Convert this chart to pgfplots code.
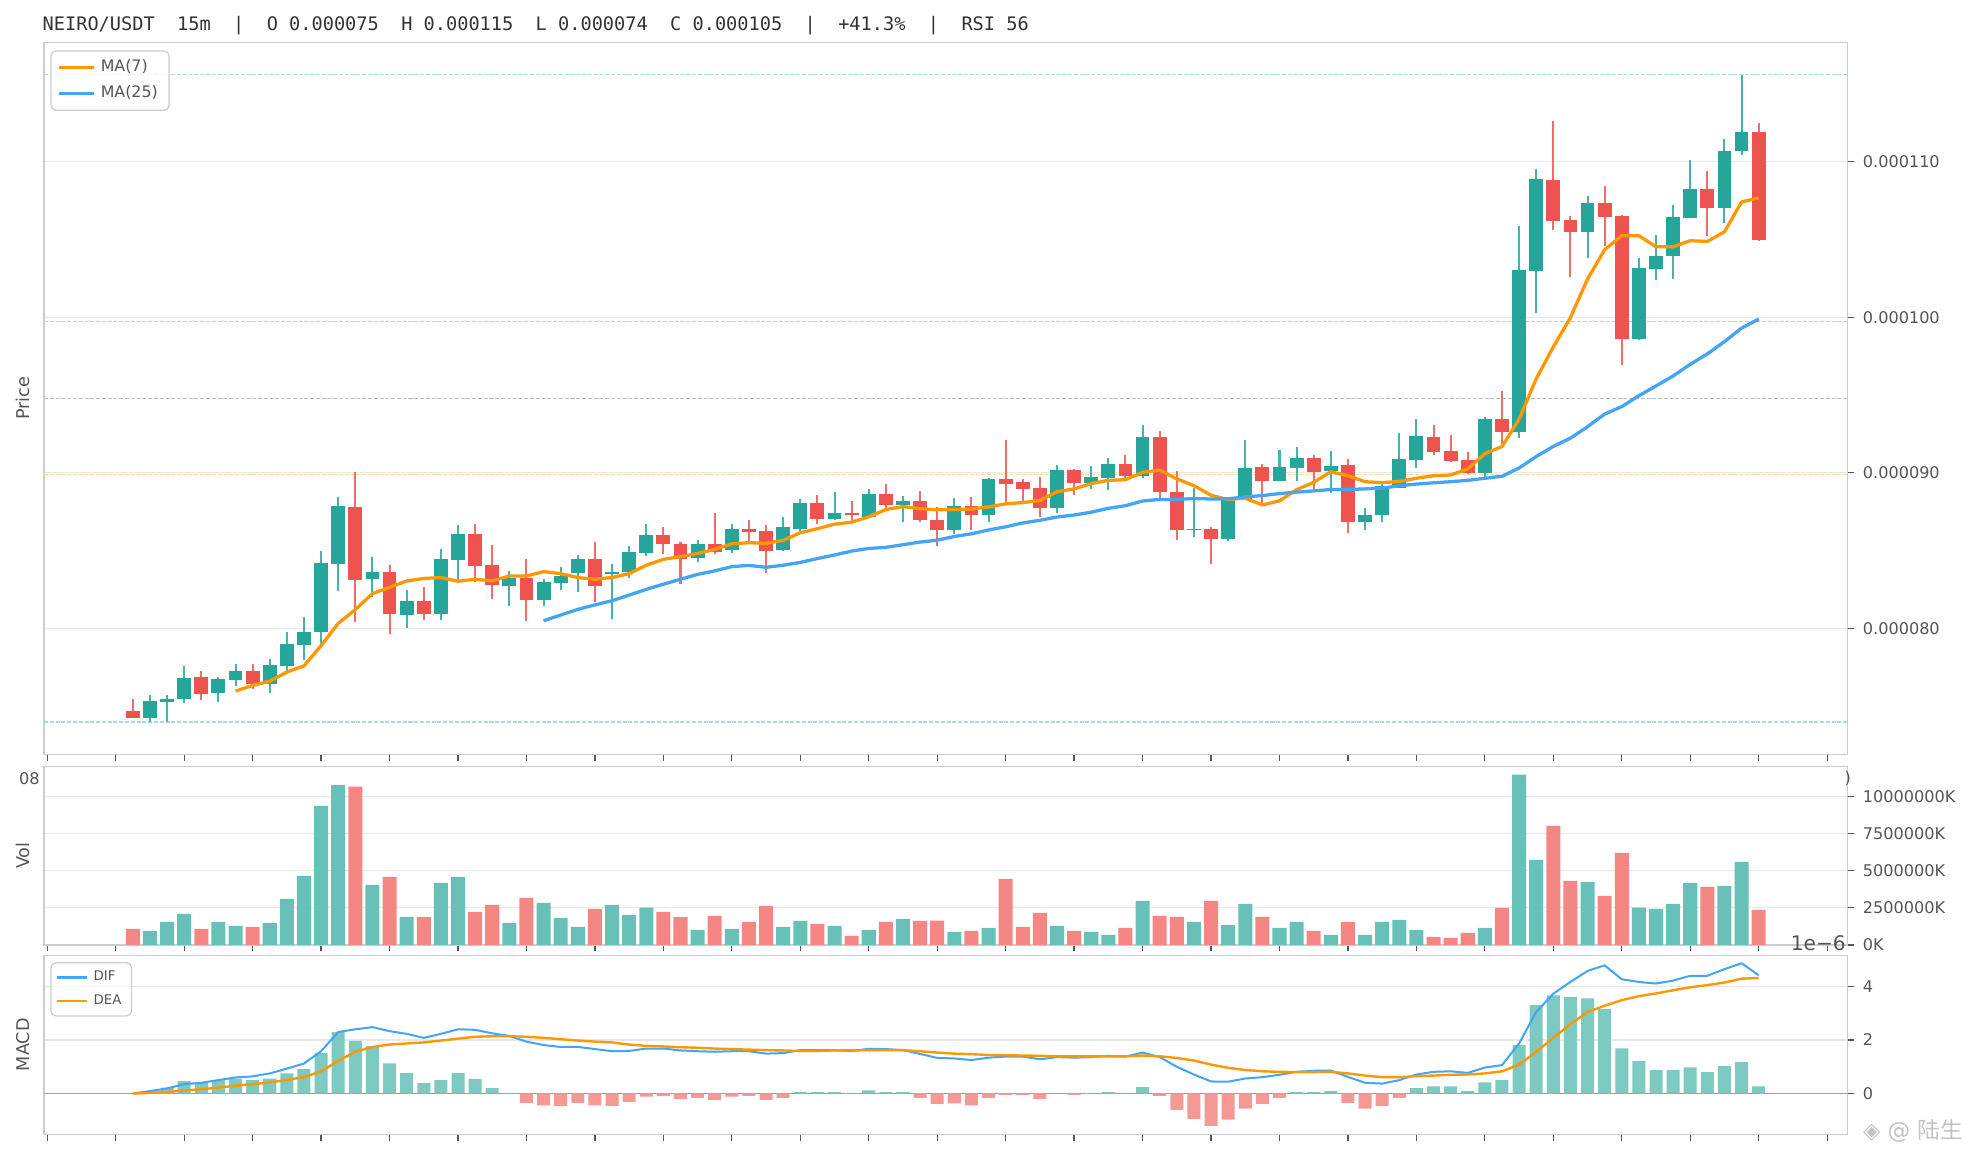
\documentclass[border=0pt]{standalone}
\usepackage{fontspec}
\setmainfont{DejaVu Sans}
\newfontfamily\monof{DejaVu Sans Mono}
\newfontfamily\cjk{Noto Sans CJK SC}
\usepackage{pgfplots}
\usepackage{pgfplotstable}
\pgfplotsset{compat=1.18}

\definecolor{up}{HTML}{26A69A}
\definecolor{dn}{HTML}{EF5350}
\definecolor{upw}{HTML}{46B3A9}
\definecolor{dnw}{HTML}{F16D6A}
\definecolor{volup}{HTML}{67C1B8}
\definecolor{voldn}{HTML}{F48784}
\definecolor{histup}{HTML}{7DCAC2}
\definecolor{histdn}{HTML}{F59896}
\definecolor{maor}{HTML}{FF9800}
\definecolor{mabl}{HTML}{42A5F5}
\definecolor{spine}{HTML}{CCCCCC}
\definecolor{gridc}{HTML}{E8E8E8}
\definecolor{tickc}{HTML}{555555}
\definecolor{labc}{HTML}{555555}
\definecolor{fibteal}{HTML}{A8DCD7}
\definecolor{fibred}{HTML}{F9B9B8}
\definecolor{fibgray}{HTML}{BDBDBD}
\definecolor{fiborange}{HTML}{FFD699}
\definecolor{zeroc}{HTML}{9E9E9E}
\definecolor{titlec}{HTML}{333333}
\definecolor{wm}{HTML}{C4C4C4}

% up candles: index, open, high, low, close, volume (x 1e6 K)
\pgfplotstableread{
i o h l c v
1 74.25 75.72 73.97 75.34 0.946
2 75.28 75.72 74.00 75.47 1.554
3 75.47 77.58 75.21 76.81 2.095
5 75.85 76.88 75.28 76.75 1.554
6 76.68 77.71 76.30 77.26 1.284
8 76.43 78.03 75.85 77.64 1.486
9 77.58 79.76 77.20 78.99 3.108
10 78.92 80.72 77.96 79.76 4.662
11 79.76 84.94 78.99 84.17 9.392
12 84.10 88.46 82.38 87.89 10.81
14 83.17 84.56 81.98 83.60 4.054
16 80.85 82.45 80.00 81.74 1.892
18 80.90 85.07 80.50 84.43 4.189
19 84.37 86.61 83.07 86.09 4.595
22 82.70 83.66 81.43 83.21 1.486
24 81.80 83.15 81.42 82.96 2.838
25 82.89 83.92 82.45 83.34 1.824
26 83.53 84.69 82.34 84.43 1.216
28 83.47 84.11 80.60 83.60 2.703
29 83.60 85.26 83.21 84.88 2.027
30 84.81 86.67 84.62 85.97 2.523
33 84.49 85.65 84.24 85.39 1.014
35 85.00 86.73 84.81 86.35 1.081
38 85.00 87.18 84.94 86.48 1.216
39 86.41 88.34 86.22 88.08 1.622
41 87.05 88.78 86.99 87.44 1.284
43 87.18 88.98 87.18 88.65 1.014
45 87.95 88.53 86.80 88.20 1.757
48 86.29 88.40 86.09 87.89 0.878
50 87.25 89.68 86.80 89.62 1.149
54 87.76 90.51 87.44 90.19 1.284
56 89.36 90.44 88.98 89.75 0.878
57 89.68 90.96 88.91 90.58 0.676
59 89.81 93.07 89.68 92.30 2.973
62 86.29 89.04 85.84 86.41 1.554
64 85.71 88.34 85.58 88.27 1.351
65 88.27 92.11 88.27 90.32 2.770
67 89.49 91.47 89.49 90.38 1.149
68 90.32 91.66 89.49 90.96 1.554
70 90.13 91.41 88.72 90.45 0.676
72 86.80 87.76 86.29 87.31 0.676
73 87.25 89.42 86.86 89.17 1.554
74 89.04 92.56 89.04 90.90 1.689
75 90.83 93.46 90.32 92.37 1.014
79 89.99 93.59 89.74 93.46 1.149
81 92.63 105.88 92.24 103.04 11.49
82 102.98 109.53 100.24 108.89 5.743
85 105.49 107.80 103.83 107.35 4.257
88 98.57 103.83 98.51 103.18 2.523
89 103.12 105.30 102.42 103.95 2.432
90 103.95 107.22 102.48 106.45 2.770
91 106.39 110.10 106.39 108.25 4.189
93 107.03 111.44 106.07 110.67 3.986
94 110.67 115.60 110.42 111.89 5.608
}\upt

% down candles
\pgfplotstableread{
i o h l c v
0 74.70 75.47 74.25 74.25 1.081
4 76.88 77.26 75.40 75.79 1.081
7 77.26 77.71 76.11 76.43 1.216
13 87.82 90.06 80.40 83.11 10.68
15 83.60 84.05 79.60 80.91 4.595
17 81.74 82.64 80.50 80.90 1.892
20 86.09 86.73 82.98 83.98 2.230
21 84.05 85.33 81.87 82.77 2.703
23 83.21 84.43 80.45 81.80 3.176
27 84.43 85.52 81.68 82.70 2.432
31 85.97 86.48 84.75 85.39 2.230
32 85.39 85.52 82.84 84.43 1.892
34 85.39 87.38 84.75 84.88 1.959
36 86.41 86.93 85.39 86.16 1.554
37 86.22 86.61 83.53 84.94 2.635
40 88.08 88.59 86.67 87.05 1.419
42 87.44 88.20 86.86 87.25 0.608
44 88.65 89.30 87.63 87.95 1.554
46 88.20 88.85 86.86 86.93 1.622
47 86.99 87.82 85.26 86.29 1.644
49 87.89 88.46 86.29 87.25 0.946
51 89.62 92.10 88.14 89.30 4.459
52 89.43 89.62 88.14 88.98 1.216
53 89.04 89.75 87.12 87.76 2.162
55 90.19 90.25 88.59 89.36 0.946
58 90.58 91.15 89.68 89.81 1.149
60 92.30 92.69 88.40 88.78 1.959
61 88.78 90.13 85.65 86.29 1.892
63 86.41 86.48 84.11 85.71 2.973
66 90.38 90.58 88.08 89.49 1.892
69 90.96 91.15 88.91 90.06 0.946
71 90.51 90.90 86.10 86.80 1.554
76 92.30 93.07 91.15 91.34 0.541
77 91.41 92.43 90.70 90.77 0.473
78 90.83 91.34 89.94 89.99 0.811
80 93.46 95.25 91.86 92.63 2.500
83 108.82 112.60 105.62 106.19 8.041
84 106.25 106.52 102.61 105.49 4.324
86 107.35 108.44 104.60 106.45 3.311
87 106.51 106.58 96.91 98.57 6.216
92 108.25 109.40 105.24 107.03 3.919
95 111.89 112.47 104.92 104.98 2.365
}\dnt

\pgfplotstableread{
i m
6 75.96
7 76.32
8 76.60
9 77.18
10 77.58
11 78.88
12 80.31
13 81.20
14 82.23
15 82.62
16 83.04
17 83.20
18 83.26
19 83.02
20 83.15
21 83.04
22 83.36
23 83.36
24 83.64
25 83.51
26 83.26
27 83.15
28 83.26
29 83.51
30 84.05
31 84.43
32 84.60
33 84.81
34 85.07
35 85.43
36 85.50
37 85.46
38 85.65
39 86.14
40 86.40
41 86.69
42 86.82
43 87.16
44 87.63
45 87.82
46 87.69
47 87.61
48 87.63
49 87.67
50 87.80
51 88.00
52 88.08
53 88.21
54 88.78
55 88.96
56 89.30
57 89.51
58 89.55
59 90.02
60 90.17
61 89.60
62 89.17
63 88.55
64 88.27
65 88.36
66 87.93
67 88.19
68 88.91
69 89.38
70 90.06
71 89.81
72 89.42
73 89.36
74 89.44
75 89.64
76 89.81
77 89.85
78 90.24
79 91.22
80 91.68
81 93.44
82 96.04
83 98.09
84 99.97
85 102.46
86 104.34
87 105.24
88 105.24
89 104.53
90 104.53
91 104.92
92 104.87
93 105.49
94 107.41
95 107.67
}\maseven

\pgfplotstableread{
i m
24 80.48
25 80.85
26 81.21
27 81.50
28 81.77
29 82.13
30 82.50
31 82.83
32 83.15
33 83.46
34 83.69
35 83.96
36 84.04
37 83.92
38 84.05
39 84.23
40 84.48
41 84.71
42 84.96
43 85.13
44 85.20
45 85.37
46 85.54
47 85.66
48 85.90
49 86.07
50 86.32
51 86.52
52 86.77
53 86.94
54 87.15
55 87.28
56 87.46
57 87.71
58 87.88
59 88.18
60 88.28
61 88.28
62 88.34
63 88.31
64 88.32
65 88.45
66 88.53
67 88.66
68 88.75
69 88.83
70 88.92
71 88.92
72 88.96
73 89.01
74 89.16
75 89.27
76 89.35
77 89.42
78 89.51
79 89.64
80 89.77
81 90.30
82 91.04
83 91.69
84 92.22
85 92.96
86 93.77
87 94.25
88 94.95
89 95.58
90 96.22
91 96.97
92 97.64
93 98.43
94 99.30
95 99.88
}\matwentyfive

\pgfplotstableread{
i h dif dea
0 0 0 0
1 0.10 0.09 0.02
2 0.22 0.19 0.06
3 0.46 0.35 0.11
4 0.41 0.40 0.16
5 0.50 0.50 0.22
6 0.56 0.60 0.29
7 0.50 0.64 0.35
8 0.56 0.75 0.41
9 0.75 0.93 0.51
10 0.91 1.12 0.61
11 1.52 1.58 0.83
12 2.29 2.30 1.22
13 1.97 2.40 1.56
14 1.77 2.48 1.74
15 1.13 2.33 1.83
16 0.76 2.23 1.87
17 0.39 2.08 1.91
18 0.50 2.23 1.98
19 0.76 2.40 2.05
20 0.54 2.38 2.12
21 0.20 2.25 2.14
22 0.02 2.15 2.14
23 -0.35 1.94 2.12
24 -0.44 1.81 2.08
25 -0.47 1.74 2.03
26 -0.35 1.74 1.98
27 -0.44 1.66 1.94
28 -0.46 1.58 1.91
29 -0.31 1.59 1.83
30 -0.12 1.68 1.78
31 -0.10 1.68 1.76
32 -0.20 1.61 1.73
33 -0.16 1.58 1.71
34 -0.24 1.56 1.68
35 -0.12 1.58 1.66
36 -0.09 1.58 1.64
37 -0.24 1.49 1.62
38 -0.16 1.51 1.61
39 0.05 1.62 1.59
40 0.05 1.62 1.59
41 0.05 1.62 1.61
42 0.01 1.59 1.61
43 0.12 1.67 1.62
44 0.05 1.66 1.62
45 0.05 1.62 1.62
46 -0.16 1.48 1.58
47 -0.39 1.33 1.53
48 -0.37 1.31 1.49
49 -0.44 1.25 1.47
50 -0.16 1.34 1.44
51 -0.05 1.38 1.43
52 -0.05 1.38 1.42
53 -0.20 1.28 1.41
54 0.01 1.36 1.39
55 -0.05 1.34 1.39
56 0.01 1.36 1.39
57 0.05 1.41 1.39
58 0.01 1.38 1.39
59 0.24 1.53 1.42
60 -0.09 1.36 1.39
61 -0.61 1.00 1.33
62 -0.95 0.71 1.23
63 -1.21 0.45 1.08
64 -0.98 0.44 0.96
65 -0.57 0.56 0.88
66 -0.39 0.61 0.83
67 -0.16 0.70 0.81
68 0.05 0.81 0.80
69 0.05 0.85 0.80
70 0.09 0.86 0.81
71 -0.35 0.62 0.75
72 -0.57 0.40 0.67
73 -0.46 0.37 0.61
74 -0.16 0.50 0.61
75 0.20 0.71 0.65
76 0.27 0.81 0.67
77 0.27 0.83 0.70
78 0.09 0.77 0.71
79 0.42 0.97 0.75
80 0.50 1.06 0.83
81 1.81 1.87 1.08
82 3.30 3.05 1.56
83 3.67 3.73 2.08
84 3.60 4.17 2.59
85 3.56 4.58 3.05
86 3.15 4.79 3.28
87 1.69 4.27 3.49
88 1.21 4.17 3.64
89 0.87 4.11 3.74
90 0.87 4.22 3.86
91 0.98 4.40 3.97
92 0.80 4.40 4.05
93 1.02 4.65 4.15
94 1.17 4.87 4.29
95 0.27 4.42 4.32
}\macdt

\pgfplotsset{
  panel/.style={
    scale only axis, width=717pt,
    xmin=-5.19, xmax=100.19,
    clip mode=individual,
    axis line style={draw=spine, line width=0.5pt},
    tick align=outside, xtick pos=left, ytick pos=right, yticklabel pos=right,
    major tick length=2.6pt,
    tick style={draw=tickc, line width=0.5pt},
    xtick={-5,-1,...,99}, xticklabels={},
    ymajorgrids, grid style={draw=gridc, line width=0.5pt},
    ticklabel style={font=\fontsize{6.4}{7.7}\selectfont, text=labc},
  },
  wick/.style={only marks, mark=*, mark size=0pt, mark options={draw opacity=0, fill opacity=0}, forget plot,
    error bars/.cd, y dir=plus, y explicit, error mark=none,
    error bar style={draw=#1, line width=0.8pt}},
  body/.style={only marks, mark=*, mark size=0pt, mark options={draw opacity=0, fill opacity=0}, forget plot,
    error bars/.cd, y dir=plus, y explicit, error mark=none,
    error bar style={draw=#1, line width=5.5pt}},
}

\begin{document}
\begin{tikzpicture}
\path[use as bounding box] (-17.5pt,16.8pt) rectangle (766.5pt,-442.7pt);

% ---------------- price panel ----------------
\begin{axis}[panel, at={(0pt,0pt)}, anchor=north west, height=283.1pt,
  ymin=71.89, ymax=117.68,
  ytick={80,90,100,110}, yticklabels={0.000080,0.000090,0.000100,0.000110},
  legend image code/.code={\draw[#1, line width=1.3pt] (0pt,0pt) -- (14pt,0pt);},
  legend style={at={(0.0035,0.9887)}, anchor=north west, draw=spine, line width=0.5pt,
    rounded corners=2pt, fill=white, fill opacity=0.8, text opacity=1,
    font=\fontsize{6.3}{7.5}\selectfont, text=labc, inner xsep=2.5pt, inner ysep=1.5pt,
    row sep=0pt, cells={anchor=west}},
]
\addplot[fibteal, line width=0.5pt, dash pattern=on 1.6pt off 0.7pt, forget plot] coordinates {(-5.19,115.60) (100.19,115.60)};
\addplot[fibred, line width=0.5pt, dash pattern=on 1.6pt off 0.7pt, forget plot] coordinates {(-5.19,99.70) (100.19,99.70)};
\addplot[fibgray, line width=0.5pt, dash pattern=on 1.6pt off 0.7pt, forget plot] coordinates {(-5.19,94.78) (100.19,94.78)};
\addplot[fiborange, line width=0.5pt, dash pattern=on 1.6pt off 0.7pt, forget plot] coordinates {(-5.19,89.87) (100.19,89.87)};
\addplot[fibteal, line width=0.5pt, dash pattern=on 1.6pt off 0.7pt, forget plot] coordinates {(-5.19,73.97) (100.19,73.97)};

\addplot[wick=upw] table[x=i, y=l, y error expr=\thisrow{h}-\thisrow{l}] {\upt};
\addplot[wick=dnw] table[x=i, y=l, y error expr=\thisrow{h}-\thisrow{l}] {\dnt};
\addplot[body=up] table[x=i, y=o, y error expr=\thisrow{c}-\thisrow{o}] {\upt};
\addplot[body=dn] table[x=i, y=c, y error expr=\thisrow{o}-\thisrow{c}] {\dnt};

\addplot[maor, line width=1.3pt, line join=round] table[x=i, y=m] {\maseven};
\addlegendentry{MA(7)}
\addplot[mabl, line width=1.3pt, line join=round] table[x=i, y=m] {\matwentyfive};
\addlegendentry{MA(25)}

\node[rotate=90, font=\fontsize{7}{8}\selectfont, text=labc] at (rel axis cs:-0.01186,0.5) {Price};
\node[anchor=base west, inner sep=0pt, font=\monof\fontsize{7.4}{9}\selectfont, text=titlec]
  at ([yshift=4.6pt]rel axis cs:-0.001,1) {NEIRO/USDT~~15m~~|~~O 0.000075~~H 0.000115~~L 0.000074~~C 0.000105~~|~~+41.3\%~~|~~RSI 56};
\end{axis}

% ---------------- volume panel ----------------
\begin{axis}[panel, at={(0pt,-287.95pt)}, anchor=north west, height=70.9pt,
  ymin=0, ymax=12.04,
  ytick={0,2.5,5,7.5,10}, yticklabels={0K,2500000K,5000000K,7500000K,10000000K},
]
\addplot[ybar, bar width=0.82, bar shift=0pt, fill=volup, draw=none] table[x=i, y=v] {\upt};
\addplot[ybar, bar width=0.82, bar shift=0pt, fill=voldn, draw=none] table[x=i, y=v] {\dnt};
\node[rotate=90, font=\fontsize{7}{8}\selectfont, text=labc] at (rel axis cs:-0.01186,0.5) {Vol};
\node[anchor=east, inner sep=0pt, font=\fontsize{6.4}{7.7}\selectfont, text=labc] at (rel axis cs:-0.0021,0.933) {08};
\node[anchor=east, inner sep=0pt, font=\fontsize{6.4}{7.7}\selectfont, text=labc] at (rel axis cs:1.0021,0.933) {)};
\end{axis}

% ---------------- MACD panel ----------------
\begin{axis}[panel, at={(0pt,-362.95pt)}, anchor=north west, height=71.15pt,
  ymin=-1.52, ymax=5.17,
  ytick={0,2,4}, yticklabels={0,2,4},
  legend image code/.code={\draw[#1, line width=1pt] (0pt,0pt) -- (12pt,0pt);},
  legend style={at={(0.0035,0.961)}, anchor=north west, draw=spine, line width=0.5pt,
    rounded corners=2pt, fill=white, fill opacity=0.8, text opacity=1,
    font=\fontsize{5.3}{6.3}\selectfont, text=labc, inner xsep=2pt, inner ysep=1.2pt,
    row sep=0pt, cells={anchor=west}},
]
\addplot[zeroc, line width=0.6pt, forget plot] coordinates {(-5.19,0) (100.19,0)};
\addplot[ybar, bar width=0.76, bar shift=0pt, fill=histup, draw=none, forget plot,
  restrict y to domain=0.0001:100] table[x=i, y=h] {\macdt};
\addplot[ybar, bar width=0.76, bar shift=0pt, fill=histdn, draw=none, forget plot,
  restrict y to domain=-100:-0.0001] table[x=i, y=h] {\macdt};
\addplot[mabl, line width=0.8pt, line join=round] table[x=i, y=dif] {\macdt};
\addlegendentry{DIF}
\addplot[maor, line width=0.95pt, line join=round] table[x=i, y=dea] {\macdt};
\addlegendentry{DEA}

\node[rotate=90, font=\fontsize{7}{8}\selectfont, text=labc] at (rel axis cs:-0.01186,0.5) {MACD};
\node[anchor=east, inner sep=0pt, font=\fontsize{8}{9.6}\selectfont, text=labc] at (rel axis cs:0.9993,1.0668) {1e−6};
\node[anchor=east, inner sep=0pt, font=\fontsize{9}{10.8}\selectfont, text=wm] at (rel axis cs:1.0642,0.0197) {◈ @ {\cjk 陆生}};
\end{axis}
\end{tikzpicture}
\end{document}
